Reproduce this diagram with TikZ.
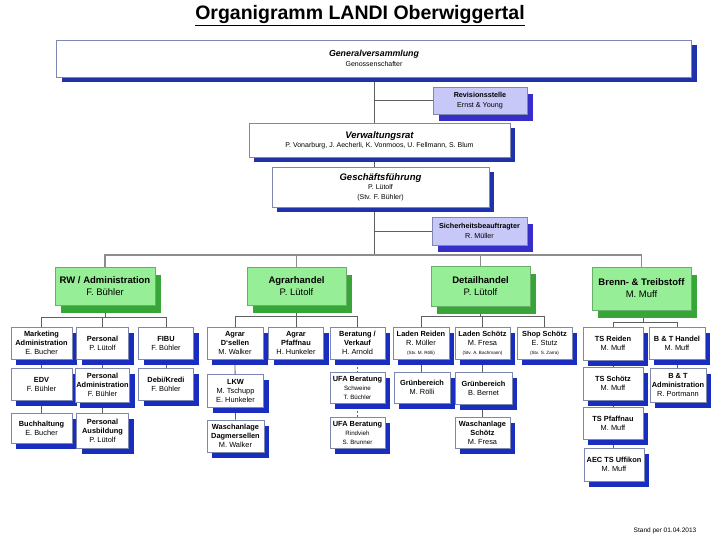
\documentclass[tikz,border=0pt]{standalone}
\usepackage{fontspec}
\setmainfont{Liberation Sans}
\usetikzlibrary{shadows}
\pgfdeclarelayer{canvasbg}
\pgfdeclarelayer{background}
\pgfsetlayers{canvasbg,background,main}
\definecolor{leafborder}{RGB}{125,135,175}
\definecolor{leafshadow}{RGB}{25,45,190}
\definecolor{gvshadow}{RGB}{30,50,170}
\definecolor{lavfill}{RGB}{200,200,248}
\definecolor{lavshadow}{RGB}{55,45,200}
\definecolor{greenfill}{RGB}{150,238,150}
\definecolor{greenborder}{RGB}{105,175,105}
\definecolor{greenshadow}{RGB}{55,165,55}
\definecolor{conncol}{RGB}{95,95,95}
\definecolor{barcol}{RGB}{140,140,140}
\tikzset{
  box/.style={draw=leafborder, line width=0.7pt, fill=white, align=center, inner sep=1pt},
  leaf/.style={box, font=\fontsize{7.4}{9}\selectfont,
    drop shadow={shadow xshift=5pt, shadow yshift=-6pt, fill=leafshadow, opacity=1}},
  topbox/.style={box, font=\fontsize{7}{10}\selectfont,
    drop shadow={shadow xshift=5pt, shadow yshift=-5pt, fill=gvshadow, opacity=1}},
  lavbox/.style={box, fill=lavfill, font=\fontsize{7.2}{9.5}\selectfont,
    drop shadow={shadow xshift=6pt, shadow yshift=-7pt, fill=lavshadow, opacity=1}},
  greenbox/.style={box, draw=greenborder, fill=greenfill, font=\fontsize{9.5}{12}\selectfont,
    drop shadow={shadow xshift=6pt, shadow yshift=-8pt, fill=greenshadow, opacity=1}},
  conn/.style={draw=conncol, line width=0.8pt},
  dconn/.style={conn, dashed, dash pattern=on 2pt off 2pt},
  mainbar/.style={draw=barcol, line width=1.2pt},
}
\begin{document}
\begin{tikzpicture}[x=1pt,y=-1pt]
\begin{pgfonlayer}{canvasbg}
\fill[white] (0,0) rectangle (720,546);
\end{pgfonlayer}
\useasboundingbox (0,0) rectangle (720,546);

\node[font=\fontsize{19.5}{22}\selectfont\bfseries] (title) at (360,16) {\underline{Organigramm LANDI Oberwiggertal}};

% top chain
\node[topbox, minimum width=635, minimum height=37] (gv) at (374,58.5)
  {{\fontsize{8.8}{10}\selectfont\bfseries\itshape Generalversammlung}\\Genossenschafter};
\node[lavbox, minimum width=94, minimum height=27] (rev) at (480,100.5)
  {\textbf{Revisionsstelle}\\Ernst \& Young};
\node[topbox, minimum width=261, minimum height=34] (vr) at (379.5,140)
  {{\fontsize{9.5}{11}\selectfont\bfseries\itshape Verwaltungsrat}\\[-1pt]P. Vonarburg, J. Aecherli, K. Vonmoos, U. Fellmann, S. Blum};
\node[topbox, minimum width=217, minimum height=40, font=\fontsize{7}{9.5}\selectfont] (gf) at (380.5,187)
  {{\fontsize{9.5}{11}\selectfont\bfseries\itshape Geschäftsführung}\\P. Lütolf\\(Stv. F. Bühler)};
\node[lavbox, minimum width=95, minimum height=28] (sib) at (479.5,231)
  {\textbf{Sicherheitsbeauftragter}\\R. Müller};

% green department boxes
\node[greenbox, minimum width=100, minimum height=38] (rw) at (105,286)
  {\textbf{RW / Administration}\\F. Bühler};
\node[greenbox, minimum width=99, minimum height=38] (ag) at (296.5,286)
  {\textbf{Agrarhandel}\\P. Lütolf};
\node[greenbox, minimum width=99, minimum height=40] (dh) at (480.5,286)
  {\textbf{Detailhandel}\\P. Lütolf};
\node[greenbox, minimum width=99, minimum height=43] (bt) at (641.5,288.5)
  {\textbf{Brenn- \& Treibstoff}\\M. Muff};

% RW column
\node[leaf, minimum width=61, minimum height=32] (mkt) at (41.5,343) {\textbf{Marketing}\\\textbf{Administration}\\E. Bucher};
\node[leaf, minimum width=52, minimum height=32] (pers) at (102.5,343) {\textbf{Personal}\\P. Lütolf};
\node[leaf, minimum width=55, minimum height=32] (fibu) at (166,343) {\textbf{FIBU}\\F. Bühler};
\node[leaf, minimum width=61, minimum height=32] (edv) at (41.5,384) {\textbf{EDV}\\F. Bühler};
\node[leaf, minimum width=52, minimum height=34] (padm) at (102.5,385) {\textbf{Personal}\\\textbf{Administration}\\F. Bühler};
\node[leaf, minimum width=55, minimum height=32] (debi) at (166,384) {\textbf{Debi/Kredi}\\F. Bühler};
\node[leaf, minimum width=61, minimum height=30] (buch) at (41.5,428) {\textbf{Buchhaltung}\\E. Bucher};
\node[leaf, minimum width=52, minimum height=35] (paus) at (102.5,430.5) {\textbf{Personal}\\\textbf{Ausbildung}\\P. Lütolf};

% Agrar column
\node[leaf, minimum width=56, minimum height=32] (agds) at (235,343) {\textbf{Agrar}\\\textbf{D‘sellen}\\M. Walker};
\node[leaf, minimum width=55, minimum height=32] (agpf) at (296,343) {\textbf{Agrar}\\\textbf{Pfaffnau}\\H. Hunkeler};
\node[leaf, minimum width=55, minimum height=32] (ber) at (357.5,343) {\textbf{Beratung /}\\\textbf{Verkauf}\\H. Arnold};
\node[leaf, minimum width=56, minimum height=33] (lkw) at (235.5,390.5) {\textbf{LKW}\\M. Tschupp\\E. Hunkeler};
\node[leaf, minimum width=57, minimum height=32] (wasd) at (235.5,436) {\textbf{Waschanlage}\\\textbf{Dagmersellen}\\M. Walker};
\node[leaf, minimum width=55, minimum height=31] (ufas) at (357.5,387.5) {\textbf{UFA Beratung}\\{\fontsize{6.2}{8.5}\selectfont Schweine}\\{\fontsize{6.2}{8.5}\selectfont T. Büchler}};
\node[leaf, minimum width=55, minimum height=31] (ufar) at (357.5,432.5) {\textbf{UFA Beratung}\\{\fontsize{6.2}{8.5}\selectfont Rindvieh}\\{\fontsize{6.2}{8.5}\selectfont S. Brunner}};

% Detail column
\newcommand{\stvtext}[1]{{\fontsize{4.6}{7}\selectfont #1}}
\node[leaf, minimum width=56, minimum height=32] (lr) at (421,343) {\textbf{Laden Reiden}\\R. Müller\\\stvtext{(Stv. M. Rölli)}};
\node[leaf, minimum width=55, minimum height=32] (ls) at (482.5,343) {\textbf{Laden Schötz}\\M. Fresa\\\stvtext{(Stv. A. Bachmann)}};
\node[leaf, minimum width=55, minimum height=32] (ss) at (544.5,343) {\textbf{Shop Schötz}\\E. Stutz\\\stvtext{(Stv. S. Zarra)}};
\node[leaf, minimum width=56, minimum height=31] (gr1) at (422,387.5) {\textbf{Grünbereich}\\M. Rölli};
\node[leaf, minimum width=57, minimum height=32] (gr2) at (483.5,388) {\textbf{Grünbereich}\\B. Bernet};
\node[leaf, minimum width=55, minimum height=31] (wsch) at (482.5,432.5) {\textbf{Waschanlage}\\\textbf{Schötz}\\M. Fresa};

% Brenn column
\node[leaf, minimum width=60, minimum height=33] (tsr) at (613,343.5) {\textbf{TS Reiden}\\M. Muff};
\node[leaf, minimum width=56, minimum height=32] (bth) at (677,343) {\textbf{B \& T Handel}\\M. Muff};
\node[leaf, minimum width=60, minimum height=33] (tss) at (613,383.5) {\textbf{TS Schötz}\\M. Muff};
\node[leaf, minimum width=56, minimum height=34] (bta) at (678,385) {\textbf{B \& T}\\\textbf{Administration}\\R. Portmann};
\node[leaf, minimum width=60, minimum height=32] (tsp) at (613,423) {\textbf{TS Pfaffnau}\\M. Muff};
\node[leaf, minimum width=60, minimum height=33] (aec) at (614,464.5) {\textbf{AEC TS Uffikon}\\M. Muff};

\node[font=\fontsize{6.5}{8}\selectfont] (stand) at (665,531) {Stand per 01.04.2013};

\begin{pgfonlayer}{background}
\coordinate (mb) at (374,255);
\draw[conn] (gv.south) -- (mb);
\draw[conn] (rev.west) -- (rev.west -| gv.south);
\draw[conn] (sib.west) -- (sib.west -| gv.south);
\draw[mainbar] (rw.north) -- (rw.north |- mb) -- (bt.north |- mb) -- (bt.north);
\draw[mainbar] (ag.north) -- (ag.north |- mb);
\draw[mainbar] (dh.north) -- (dh.north |- mb);

\coordinate (rwb) at (104,317);
\draw[conn] (rw.south) -- (rw.south |- rwb);
\draw[conn] (mkt.north) -- (mkt.north |- rwb) -- (fibu.north |- rwb) -- (fibu.north);
\draw[conn] (pers.north) -- (pers.north |- rwb);
\draw[conn] (mkt.south) -- (buch.north);
\draw[conn] (pers.south) -- (paus.north);
\draw[conn] (fibu.south) -- (debi.north);

\coordinate (agb) at (296.5,316);
\draw[conn] (ag.south) -- (ag.south |- agb);
\draw[conn] (agds.north) -- (agds.north |- agb) -- (ber.north |- agb) -- (ber.north);
\draw[conn] (agpf.north) -- (agpf.north |- agb);
\draw[conn] (agds.south) -- (wasd.north);
\draw[dconn] (ber.south) -- (ufas.north);
\draw[dconn] (ufas.south) -- (ufar.north);

\coordinate (dhb) at (480.5,316);
\draw[conn] (dh.south) -- (dh.south |- dhb);
\draw[conn] (lr.north) -- (lr.north |- dhb) -- (ss.north |- dhb) -- (ss.north);
\draw[conn] (ls.north) -- (ls.north |- dhb);
\draw[conn] (lr.south) -- (lr.south |- gr1.north);
\draw[conn] (ls.south) -- (wsch.north);

\coordinate (btb) at (643,322);
\draw[conn] (bt.south -| btb) -- (btb);
\draw[conn] (tsr.north) -- (tsr.north |- btb) -- (bth.north |- btb) -- (bth.north);
\draw[conn] (tsr.south) -- (tsr.south |- aec.north);
\draw[conn] (bth.south) -- (bth.south |- bta.north);
\end{pgfonlayer}
\end{tikzpicture}
\end{document}
